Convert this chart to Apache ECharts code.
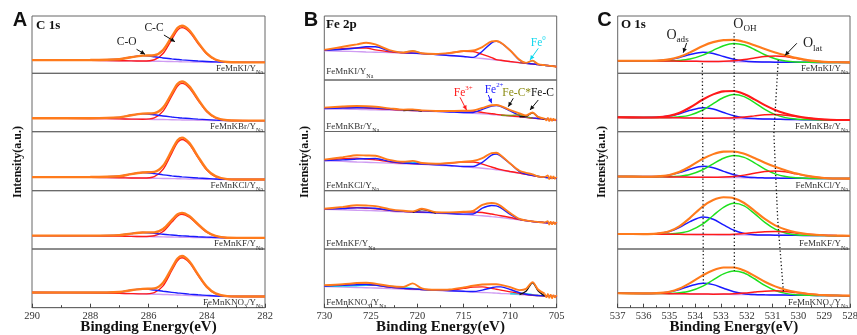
<!DOCTYPE html>
<html><head><meta charset="utf-8">
<script src="https://cdn.jsdelivr.net/npm/echarts@6/dist/echarts.min.js"></script>
<style>html,body{margin:0;padding:0;background:#fff}#c{width:857px;height:335px}</style>
</head><body><div id="c"></div>
<script>
// ================= DATA (values in % of each row's height) =================
const ROW_NAMES = ['FeMnKI', 'FeMnKBr', 'FeMnKCl', 'FeMnKF', 'FeMnKNO3'];

// ---- Panel A : C 1s ----
const A_X = [290, 288, 287, 286.6, 286.2, 285.8, 285.5, 285.2, 285, 284.85, 284.6, 284.3, 284, 283.7, 283.3, 282.5, 282];
const A_BG = [
  [23,22.6,22,21.6,21.3,21,20.8,20.5,20.3,20.1,19.9,19.6,19.4,19.2,19,19,19],
  [23,22.6,22,21.6,21.3,21,20.8,20.5,20.3,20.1,19.9,19.6,19.4,19.2,19,19,19],
  [23,22.6,22,21.6,21.3,21,20.8,20.5,20.3,20.1,19.9,19.6,19.4,19.2,19,19,19],
  [23,22.6,22,21.6,21.3,21,20.8,20.5,20.3,20.1,19.9,19.6,19.4,19.2,19,19,19],
  [26,25.4,24.6,24,23.5,23,22.6,22.1,21.7,21.4,20.9,20.3,19.8,19.4,19.1,19,19]
];
const A_CO = [
  [23,23.1,24.5,28.1,30.8,29,26.8,25.1,24.1,23.4,22.5,21.5,20.7,19.9,19.2,19,19],
  [23,23.1,24.5,28.1,30.8,29,26.8,25.1,24.1,23.4,22.5,21.5,20.7,19.9,19.2,19,19],
  [23,23.1,24.5,28.1,30.8,29,26.8,25.1,24.1,23.4,22.5,21.5,20.7,19.9,19.2,19,19],
  [23,23,23.8,26.4,28.3,26.9,25.2,23.9,23.1,22.6,21.8,21,20.4,19.7,19.1,19,19],
  [26,25.8,26.8,29.8,32,30.1,28,26.2,25.1,24.4,23.2,22,21,20,19.3,19,19]
];
const A_CC = [
  [23,22.6,22,21.6,21.4,23.6,34.5,59.4,75.4,79.7,72.5,52.1,33.5,23.4,19.5,19,19],
  [23,22.6,22,21.6,21.4,23.8,35.2,61.2,78.2,82.7,75,53.8,34.2,23.6,19.5,19,19],
  [23,22.6,22,21.6,21.4,23.9,36.1,63.8,81.9,86.7,78.5,56,35.1,23.9,19.5,19,19],
  [23,22.6,22,21.6,21.4,22.7,29.9,46.1,56.7,59.5,54.6,41.1,28.7,22,19.3,19,19],
  [26,25.4,24.6,24,23.6,25.8,37.2,63.4,80.5,85,76.9,55,34.8,23.9,19.6,19,19]
];
const A_SUM = [
  [23,23.1,24.5,28.1,30.9,31.6,40.5,64,79.2,83,75.1,54,34.8,24.1,19.7,19,19],
  [23,23.1,24.5,28.1,30.9,31.8,41.2,65.8,82,86,77.6,55.7,35.5,24.3,19.7,19,19],
  [23,23.1,24.5,28.1,30.9,31.9,42.1,68.4,85.7,90,81.1,57.9,36.4,24.6,19.7,19,19],
  [23,23,23.8,26.4,28.4,28.6,34.3,49.5,59.5,62,56.5,42.5,29.7,22.5,19.4,19,19],
  [26,25.8,26.8,29.8,32.1,32.9,42.6,67.5,83.9,88,79.2,56.7,36,24.5,19.8,19,19]
];

// ---- Panel B : Fe 2p ----
const B_X = [730, 728, 726.5, 725.5, 724.5, 723, 721.5, 720.5, 719.5, 718, 716.5, 715, 714, 713, 712, 711.5, 711, 710, 709, 708.3, 707.6, 707, 706.3, 705.6, 705];
const B_BG = [
  [45.8,45,44.3,43.8,43.4,42.8,42.3,41.9,41.2,39.6,38,36.5,35,33.5,32,31.3,30.5,28.6,27,26,25,24,23,22,20.8],
  [44,43.5,43,42.5,42,41.5,40.8,40.3,39.8,38.8,37.8,36.5,35.5,34.3,33,32.3,31.5,30,28.5,27.3,26,25,24,23,22],
  [50.5,49.5,48.5,48,47.5,46.5,45.5,45,44.5,43.3,42,40.5,39.3,38,36.5,35.5,34.5,32,29.5,27.5,25.5,24,22.5,21.5,21],
  [68,67.3,66.5,66,65.5,64.5,63.5,63,62.5,61.5,60.3,59,58,57,55.5,54.8,54,52,50,48.5,47,46,45,44.5,44],
  [36,35.3,34.5,34,33.5,32.5,31.5,31,30.5,29.5,28.5,27.5,26.8,26,25.2,24.8,24.3,23.5,22.5,21.8,21,20.5,20,19.5,19]
];
const B_FE3 = [
  [46.5,49,50,50,47,44,42.5,42,41.3,40.5,42,45,44.5,40,35,31.8,30.8,28.8,27.1,26,25,24,23,22,20.8],
  [45.5,46.5,46.5,45.5,44.5,43,41.5,40.8,40.3,39.5,39.5,40,39.5,37,34.5,33.3,32.3,30.5,28.8,27.5,26,25,24,23,22],
  [52,54,55,53.5,52,49,46.5,45.8,45.3,45,46.5,48.5,48.5,45,40,37.5,35.5,32.5,29.7,27.7,25.7,24,22.5,21.5,21],
  [68.5,70,71,70,69,66.5,64.5,63.8,63.3,62.5,62.2,63,63.5,62.5,60,58.5,57,54,50.5,48.7,47.2,46.2,45.2,44.5,44],
  [37.5,39,41,40,38.5,35,33,32,31,30.2,30,33,35,35.5,33,31.5,30,27,24.5,22.5,21.3,20.7,20,19.5,19]
];
const B_FE2 = [
  [46.3,48,50,52,52,45.5,42.8,42,41.4,39.8,38.3,36.8,35.3,45,58,60.5,58,46,31,26.2,25.2,24.1,23,22,20.8],
  [44.8,45.5,46,46,45.5,43.5,41.8,41,40.5,39.2,38,36.8,37,43,49.5,50.5,48.5,40,31,28,26.5,25.3,24,23,22],
  [51,52,53.5,54,54.5,49.5,46.8,46,45.2,43.8,42.5,41,41,48,60,62,58.5,45.5,32,28,26,24.2,22.5,21.5,21],
  [68.5,69.5,70.5,70.5,70,66.5,64.5,63.8,63.3,62.2,61,59.8,60,70,74.5,74,70.5,59.5,51,48.8,47.2,46.2,45.2,44.5,44],
  [37,38,39,39.5,38.5,35,33,32,31,30,29,28,27.5,30,34,35.5,35.5,31,25.5,23,21.5,20.8,20.2,19.5,19]
];
const B_SAT = [
  [null,null,null,null,null,null,42.3,45.3,41.2,null,null,null,null,null,null,null,null,null,27,26.5,30,24.5,23,22,20.8],
  null,
  [null,null,null,null,null,null,46.5,48.5,45.3,null,null,null,null,null,null,null,null,null,31,29.5,27,24,22.5,21.5,21],
  null,
  [36.5,36.8,37.5,38,38,36.5,34,33,31.5,30,null,null,null,null,null,null,null,23.7,23.5,24,22,20.8,20,19.5,19]
];
const B_FEC = [
  null,
  [null,null,null,null,null,null,40.8,42,39.8,null,null,null,null,null,null,null,null,null,28.5,29.3,36.5,28,24,null,null],
  null,
  [null,null,null,null,null,null,null,63,67.5,61.5,null,null,null,null,null,null,null,null,null,null,null,null,null,null,null],
  [null,null,null,null,null,null,null,null,null,null,null,null,null,null,null,null,null,null,22.5,28,42.5,29,20,null,null]
];
const B_FECS = [
  null,
  [null,null,null,null,null,null,null,null,null,null,null,null,null,null,null,null,31.5,31,32.5,28.3,26,null,null,null,null],
  null, null, null
];
const B_SUM = [
  [47,52,55.7,58.3,55.7,46.8,43,45.3,41.7,40.7,42.3,45.3,46,51.5,60.4,60.9,58.3,46.2,31.5,26.8,30.2,24.8,23.2,22,20.8],
  [46.3,48.5,49.5,49,48,45,42.5,43,41,39.9,39.7,40.3,41,45.7,51,51.5,49.3,41.5,35.3,31.2,37,28.3,25],
  [52.5,56.5,60,59.5,59,52,48.8,50.3,46.8,45.5,47,49,50.2,55,63.5,64,59.5,46,33.7,30.2,27.7,24.2,23],
  [69,72.2,75,74.5,73.5,68.5,65.5,64.6,69.1,63.2,62.9,63.8,65.5,75.5,79,77.7,73.5,61.5,51.5,49,47.4,46.4,45.4],
  [38.5,40,42,42.5,41,37,35.5,41.5,33,30.5,31,34.5,37.5,39.5,40,40,39,35,30,32,43.5,31,24]
];
const B_NOISE_X = [706.3, 706.1, 705.95, 705.8, 705.65, 705.5, 705.35, 705.2, 705.05, 705];
const B_NOISE = [
  null,
  [25,21,27,19.5,26,20,25.5,21,24,22],
  [23,20,26,19,25,20,24.5,19.5,23,21.5],
  [45.4,42,48,41,47.5,41.5,47,42,46,44],
  [24,17,24,16,23,15.5,22,17,21,19]
];

// ---- Panel C : O 1s ----
const C_X = [537, 536, 535.5, 535, 534.6, 534.2, 533.7, 533.3, 532.9, 532.5, 532.1, 531.7, 531.3, 530.9, 530.5, 530.1, 529.6, 529, 528.5, 528];
const C_BG = [
  [22,21.8,21.6,21.4,21.2,21,20.8,20.6,20.4,20.2,20,19.8,19.6,19.4,19.3,19.2,19.1,19,19,19],
  [24.6,24.3,24.1,23.9,23.7,23.5,23.2,23,22.8,22.6,22.3,22,21.7,21.4,21.1,20.8,20.5,20.2,20,20],
  [24,23.8,23.6,23.4,23.2,23,22.8,22.6,22.4,22.2,22,21.8,21.6,21.4,21.2,21,20.8,20.6,20.5,20.5],
  [25.7,25.5,25.4,25.2,25.1,25,24.8,24.6,24.5,24.3,24.2,24,23.9,23.7,23.6,23.4,23.2,23,22.9,22.8],
  [24.5,24.3,24.1,23.9,23.7,23.5,23.2,23,22.8,22.5,22.3,22.1,21.9,21.7,21.5,21.3,21,20.8,20.6,20.5]
];
const C_ADS = [
  [22,21.9,22.1,23.9,27.6,32.7,36.8,34.7,29.4,24.4,21.4,20.1,19.7,19.4,19.3,19.2,19.1,19,19,19],
  [24.6,24.4,24.6,26.7,30.9,36.6,41.2,38.8,32.9,27.3,23.8,22.4,21.8,21.4,21.1,20.8,20.5,20.2,20,20],
  [24,23.9,24.2,26.3,30.6,36.5,41.3,38.9,32.8,27,23.6,22.2,21.7,21.4,21.2,21,20.8,20.6,20.5,20.5],
  [25.7,25.6,26.3,29.9,37.1,46.9,54.8,51,41.3,32.1,26.8,24.6,24,23.7,23.6,23.4,23.2,23,22.9,22.8],
  [24.5,24.4,24.7,26.8,31.1,37,41.7,39.3,33.2,27.3,23.9,22.5,22,21.7,21.5,21.3,21,20.8,20.6,20.5]
];
const C_OH = [
  [22,21.8,21.7,21.8,22.5,24.8,31.7,40.1,48.2,52.2,49.4,41.6,32.4,25.5,21.6,19.9,19.2,19,19,19],
  [24.6,24.3,24.2,24.4,25.4,28.4,37.1,48,58.5,63.6,60,49.9,38.1,29.2,24.1,21.7,20.7,20.2,20,20],
  [24,23.8,23.7,23.8,24.7,27.5,35.6,45.5,55,59.7,56.5,47.3,36.6,28.5,23.9,21.8,21,20.6,20.5,20.5],
  [25.7,25.5,25.5,25.8,27.3,31.5,43.2,57.5,71.5,78.3,73.9,60.7,45.5,34,27.5,24.6,23.4,23,22.9,22.8],
  [24.5,24.3,24.2,24.3,25.3,28.3,36.8,47.4,57.6,62.5,59.1,49.3,37.9,29.3,24.4,22.2,21.2,20.8,20.6,20.5]
];
const C_LAT = [
  [22,21.8,21.6,21.4,21.2,21,20.8,20.8,21.1,22.1,24.1,26.8,29.5,30.4,29.2,26.2,22.5,19.9,19.2,19],
  [24.6,24.3,24.1,23.9,23.7,23.5,23.2,23.1,23.3,24,25.3,27.1,28.9,29.4,28.3,25.9,23,20.9,20.1,20],
  [24,23.8,23.6,23.4,23.2,23,22.8,22.8,23.2,24.2,26.4,29.5,32.4,33.4,32,28.7,24.5,21.6,20.7,20.5],
  [25.7,25.5,25.4,25.2,25.1,25,24.8,24.7,24.9,25.4,26.6,28.2,29.8,30.2,29.5,27.6,25.2,23.5,23,22.8],
  [24.5,24.3,24.1,23.9,23.7,23.5,23.2,23.1,23.2,23.7,24.9,26.6,28.2,28.7,27.8,25.8,23.2,21.4,20.7,20.5]
];
const C_SUM = [
  [22,21.9,22.2,24.3,28.9,36.5,47.7,54.4,57.9,58.3,54.9,48.9,42.4,36.5,31.5,26.9,22.6,19.9,19.2,19],
  [24.6,24.4,24.7,27.2,32.6,41.5,55.1,63.9,69.1,69.7,64.5,55.4,45.4,37.2,31.3,26.8,23.2,20.9,20.1,20],
  [24,23.9,24.3,26.7,32.1,41,54.1,62,66.2,66.5,62.5,55.4,47.5,40.5,34.7,29.5,24.7,21.6,20.7,20.5],
  [25.7,25.6,26.4,30.5,39.3,53.4,73.2,84,88.7,87.2,78.9,65.5,51.5,40.5,33.4,28.8,25.4,23.5,23,22.8],
  [24.5,24.4,24.8,27.2,32.7,41.8,55.3,63.8,68.4,68.5,63.3,54.2,44.3,36.3,30.7,26.7,23.4,21.4,20.7,20.5]
];
// guide lines across panel C (x, % of whole panel height)
const C_GUIDE_ADS = [[533.72, 83.8], [533.68, 8.4]];
const C_GUIDE_OH = [[532.49, 94.3], [532.48, 12.6]];
const C_GUIDE_LAT = [[530.78, 84.9], [530.95, 59.7], [530.8, 30], [530.58, 5.5]];

// annotations: [gridIndex, x, y%, rich text, color, fontSize]
const ANN_TEXT = [
  [0, 285.81, 79.6, '{a|C-C}', '#222', 11.5],
  [0, 286.75, 55.1, '{a|C-O}', '#222', 11.5],
  [5, 706.98, 58.6, '{a|Fe}{p|0}', '#10d8ee', 11.5],
  [6, 715.05, 74.8, '{a|Fe}{p|3+}', '#ff1a1a', 11.5],
  [6, 711.74, 81.2, '{a|Fe}{p|2+}', '#1a1aff', 11.5],
  [6, 709.3, 74.2, '{a|Fe-C*}', '#8b8b10', 11.5],
  [6, 706.53, 74.2, '{a|Fe-C}', '#111', 11.5],
  [10, 534.68, 66.8, '{a|O}{s|ads}', '#222', 14],
  [10, 532.07, 86, '{a|O}{s|OH}', '#222', 14],
  [10, 529.45, 52.4, '{a|O}{s|lat}', '#222', 14]
];
// arrows: [gridIndex, x1, y1%, x2, y2%, color]
const ANN_ARROW = [
  [0, 285.47, 66.8, 285.09, 55.1, '#111'],
  [0, 286.41, 41.9, 286.12, 33.2, '#111'],
  [5, 706.98, 49.5, 707.87, 31.3, '#10d8ee'],
  [6, 715.4, 66.4, 714.7, 41.7, '#ff1a1a'],
  [6, 712.36, 70.9, 711.99, 54.8, '#1a1aff'],
  [6, 709.67, 64.5, 710.21, 48.2, '#111'],
  [6, 706.98, 61.2, 707.87, 41.7, '#111'],
  [10, 534.33, 53, 534.46, 36, '#111'],
  [10, 530.06, 52.4, 530.52, 31, '#111']
];

// ================= CHART =================
const SERIF = '"Liberation Serif", "Times New Roman", serif';
const SANS = '"Liberation Sans", Arial, sans-serif';
const COL = {orange:'#ff7b1c', red:'#ff1a1a', blue:'#1a1aff', green:'#1ee01e', lav:'#cf9cf2', cyan:'#14dfe6', black:'#111', olive:'#8b8b10'};
const ROWS_AC = [[16,73.3],[73.3,131.7],[131.7,190.7],[190.7,249],[249,307.7]];
const ROWS_B = [[16,80],[80,131.5],[131.5,190.7],[190.7,249],[249,307.7]];
const PANELS = [
  {left:32, width:233, rows:ROWS_AC, min:282, max:290, interval:2, minor:2, name:'Bingding Energy(eV)'},
  {left:324.3, width:232.4, rows:ROWS_B, min:705, max:730, interval:5, minor:2, name:'Binding Energy(eV)'},
  {left:617.7, width:232.3, rows:ROWS_AC, min:528, max:537, interval:1, minor:2, name:'Binding Energy(eV)'}
];

const grids = [], xAxes = [], yAxes = [], series = [];
PANELS.forEach((p, pi) => {
  p.rows.forEach((r, ri) => {
    const g = pi * 5 + ri;
    const last = ri === 4;
    grids.push({left:p.left, top:r[0], width:p.width, height:r[1]-r[0], show:true, borderColor:'#666', borderWidth:1,
      backgroundColor:'transparent', outerBoundsMode:'none', containLabel:false});
    xAxes.push({
      gridIndex:g, type:'value', min:p.min, max:p.max, interval:p.interval, inverse:true,
      axisLine:{show:last, onZero:false, lineStyle:{color:'#666', width:1}},
      axisTick:{show:last, inside:true, length:4, lineStyle:{color:'#444'}},
      minorTick:{show:last, splitNumber:p.minor, length:2.5, lineStyle:{color:'#444'}},
      axisLabel:{show:last, margin:3.5, fontFamily:SERIF, fontSize:10.5, color:'#333', showMinLabel:true, showMaxLabel:true},
      splitLine:{show:false},
      name: last ? p.name : '', nameLocation:'middle', nameGap:12, nameMoveOverlap:false,
      nameTextStyle:{fontFamily:SERIF, fontWeight:'bold', fontSize:15, color:'#111'}
    });
    yAxes.push({gridIndex:g, type:'value', min:0, max:100, show:false});
  });
});
grids.push({left:617.7, top:16, width:232.3, height:291.7, show:false, outerBoundsMode:'none', containLabel:false});
xAxes.push({gridIndex:15, type:'value', min:528, max:537, inverse:true, show:false});
yAxes.push({gridIndex:15, type:'value', min:0, max:100, show:false});

function line(g, xs, ys, color, w, z, smooth) {
  if (!ys) return;
  series.push({
    type:'line', xAxisIndex:g, yAxisIndex:g, silent:true, animation:false,
    data: ys.map((y, i) => [xs[i], y]), showSymbol:false, symbol:'none',
    smooth: smooth === undefined ? 0.3 : smooth, connectNulls:false,
    lineStyle:{color, width:w}, z
  });
}
for (let r = 0; r < 5; r++) {
  line(r, A_X, A_BG[r], COL.lav, 1.4, 2);
  line(r, A_X, A_CC[r], COL.red, 1.4, 3);
  line(r, A_X, A_CO[r], COL.blue, 1.4, 4);
  line(r, A_X, A_SUM[r], COL.orange, 2.4, 5);
  const gb = 5 + r;
  line(gb, B_X, B_BG[r], COL.lav, 1.4, 2);
  line(gb, B_X, B_SAT[r], COL.cyan, 1.4, 3);
  line(gb, B_X, B_FE3[r], COL.red, 1.4, 3);
  line(gb, B_X, B_FE2[r], COL.blue, 1.4, 4);
  line(gb, B_X, B_FECS[r], COL.olive, 1.4, 4);
  line(gb, B_X, B_FEC[r], COL.black, 1.4, 4);
  line(gb, B_X, B_SUM[r], COL.orange, 1.9, 5);
  line(gb, B_NOISE_X, B_NOISE[r], COL.orange, 1.6, 5, false);
  const gc = 10 + r;
  line(gc, C_X, C_BG[r], COL.lav, 1.4, 2);
  line(gc, C_X, C_ADS[r], COL.blue, 1.5, 3);
  line(gc, C_X, C_OH[r], COL.green, 1.5, 4);
  line(gc, C_X, C_LAT[r], COL.red, 1.5, 4);
  line(gc, C_X, C_SUM[r], r === 1 ? COL.red : COL.orange, 2.1, 5);
}
[C_GUIDE_ADS, C_GUIDE_OH, C_GUIDE_LAT].forEach(d => {
  series.push({type:'line', xAxisIndex:15, yAxisIndex:15, silent:true, animation:false,
    data:d, showSymbol:false, symbol:'none', smooth:false,
    lineStyle:{color:'#111', width:1.3, type:[1.2, 2.4]}, z:8});
});

const chart = echarts.init(document.getElementById('c'));
chart.setOption({animation:false, backgroundColor:'#fff', grid:grids, xAxis:xAxes, yAxis:yAxes, series});

// ---------- texts & annotations ----------
const gfx = [];
function txt(x, y, text, style, rotation) {
  gfx.push({type:'text', x, y, rotation: rotation || 0, silent:true, z:100,
    style:Object.assign({text, fill:'#222', fontFamily:SERIF, fontSize:12, align:'center', verticalAlign:'middle'}, style)});
}
txt(20, 20, 'A', {fontFamily:SANS, fontWeight:'bold', fontSize:20, fill:'#111'});
txt(311, 20, 'B', {fontFamily:SANS, fontWeight:'bold', fontSize:20, fill:'#111'});
txt(604.5, 20, 'C', {fontFamily:SANS, fontWeight:'bold', fontSize:20, fill:'#111'});
txt(36, 26, 'C 1s', {align:'left', fontWeight:'bold', fontSize:13, fill:'#111'});
txt(326, 25, 'Fe 2p', {align:'left', fontWeight:'bold', fontSize:13, fill:'#111'});
txt(621, 25, 'O 1s', {align:'left', fontWeight:'bold', fontSize:13, fill:'#111'});
[18, 305, 602].forEach(x => txt(x, 162, 'Intensity(a.u.)', {fontWeight:'bold', fontSize:12, fill:'#111'}, Math.PI / 2));
function rowLabel(name) {
  return name === 'FeMnKNO3' ? '{a|FeMnKNO}{s|3}{a|/Y}{s|Na}' : '{a|' + name + '/Y}{s|Na}';
}
const rowRich = {a:{fontSize:9, fontFamily:SERIF, fill:'#333', lineHeight:14}, s:{fontSize:6, fontFamily:SERIF, fill:'#333', lineHeight:14, verticalAlign:'bottom'}};
for (let r = 0; r < 5; r++) {
  txt(PANELS[0].left + PANELS[0].width - 2, ROWS_AC[r][1] - 5, rowLabel(ROW_NAMES[r]), {align:'right', rich:rowRich});
  txt(PANELS[1].left + 2, ROWS_B[r][1] - (r === 0 ? 8 : 5), rowLabel(ROW_NAMES[r]), {align:'left', rich:rowRich});
  txt(PANELS[2].left + PANELS[2].width - 2, ROWS_AC[r][1] - 5, rowLabel(ROW_NAMES[r]), {align:'right', rich:rowRich});
}
ANN_TEXT.forEach(([g, x, y, t, c, fs]) => {
  const p = chart.convertToPixel({gridIndex:g}, [x, y]);
  const rich = {
    a:{fontSize:fs, fontFamily:SERIF, fill:c, lineHeight:fs + 5},
    p:{fontSize:fs * 0.6, fontFamily:SERIF, fill:c, lineHeight:fs + 5, verticalAlign:'top'},
    s:{fontSize:fs * 0.65, fontFamily:SERIF, fill:c, lineHeight:fs + 5, verticalAlign:'bottom'}
  };
  txt(p[0], p[1], t, {rich});
});
ANN_ARROW.forEach(([g, x1, y1, x2, y2, c]) => {
  const a = chart.convertToPixel({gridIndex:g}, [x1, y1]);
  const b = chart.convertToPixel({gridIndex:g}, [x2, y2]);
  gfx.push({type:'line', silent:true, z:100, shape:{x1:a[0], y1:a[1], x2:b[0], y2:b[1]}, style:{stroke:c, lineWidth:1}});
  const ang = Math.atan2(b[1] - a[1], b[0] - a[0]);
  const L = 4.5, W = 2.2;
  const bx = b[0] - L * Math.cos(ang), by = b[1] - L * Math.sin(ang);
  gfx.push({type:'polygon', silent:true, z:100, shape:{points:[[b[0], b[1]],
    [bx + W * Math.sin(ang), by - W * Math.cos(ang)], [bx - W * Math.sin(ang), by + W * Math.cos(ang)]]}, style:{fill:c}});
});
chart.setOption({graphic:gfx});
</script>
</body></html>
